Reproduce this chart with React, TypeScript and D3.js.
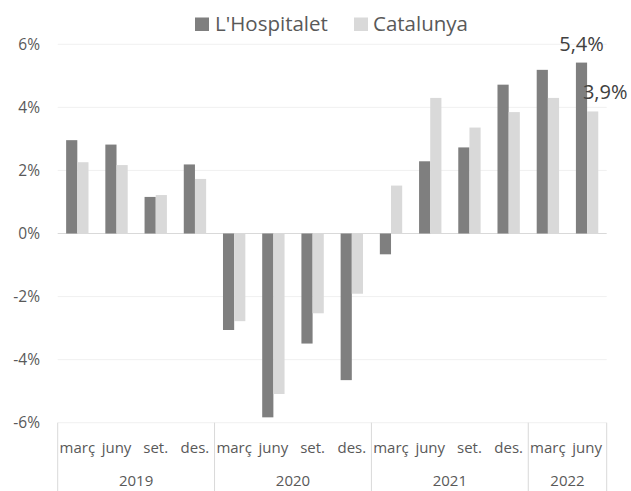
import React from 'react';
import * as d3 from 'd3';

// quarterly values
const months = ['març', 'juny', 'set.', 'des.', 'març', 'juny', 'set.', 'des.', 'març', 'juny', 'set.', 'des.', 'març', 'juny'];
const years = ['2019', '2020', '2021', '2022'];
const yearCounts = [4, 4, 4, 2];
const hospitalet = [2.96, 2.82, 1.16, 2.19, -3.06, -5.83, -3.49, -4.65, -0.66, 2.29, 2.73, 4.72, 5.19, 5.42];
const catalunya = [2.26, 2.17, 1.22, 1.73, -2.78, -5.09, -2.53, -1.91, 1.52, 4.3, 3.36, 3.85, 4.3, 3.87];
const yTicks = [-6, -4, -2, 0, 2, 4, 6];
const seriesNames = ["L'Hospitalet", 'Catalunya'];
const seriesColors = ['#7f7f7f', '#d9d9d9'];

const W = 631;
const H = 491;
const left = 57.7;
const right = 606.7;
const font = "'Open Sans', sans-serif";

export default function App() {
  const x = d3.scaleBand<number>()
    .domain(d3.range(months.length))
    .range([left, right])
    .paddingInner(0.43)
    .paddingOuter(0.215);
  const step = x.step();
  const bw = x.bandwidth() / 2;
  const y = d3.scaleLinear().domain([-6, 6]).range([422.7, 44.3]);

  // year group boundaries
  const bounds: number[] = [left];
  yearCounts.reduce((acc, c) => {
    bounds.push(left + (acc + c) * step);
    return acc + c;
  }, 0);

  const fmt = (v: number) => v.toFixed(1).replace('.', ',') + '%';
  const last = months.length - 1;

  return (
    <div style={{ position: 'absolute', left: 0, top: 0 }}>
      <svg width={W} height={H} style={{ display: 'block', background: '#fff' }}>
        {/* gridlines */}
        {yTicks.map(t => (
          <line key={t} x1={left} x2={right} y1={y(t)} y2={y(t)}
            stroke={t === 0 ? '#d9d9d9' : '#f0f0f0'} strokeWidth={1} />
        ))}
        {yTicks.map(t => (
          <text key={'l' + t} x={40} y={y(t)} dy="0.35em" textAnchor="end"
            fontFamily={font} fontSize={15.5} fill="#595959">{t}%</text>
        ))}

        {/* bars */}
        {hospitalet.map((v, i) => (
          <rect key={'h' + i} x={x(i)!} width={bw}
            y={Math.min(y(v), y(0))} height={Math.abs(y(v) - y(0))} fill={seriesColors[0]} />
        ))}
        {catalunya.map((v, i) => (
          <rect key={'c' + i} x={x(i)! + bw} width={bw}
            y={Math.min(y(v), y(0))} height={Math.abs(y(v) - y(0))} fill={seriesColors[1]} />
        ))}

        {/* data labels on last quarter */}
        <text x={x(last)! + bw / 2} y={y(hospitalet[last]) - 12} textAnchor="middle"
          fontFamily={font} fontSize={20} fill="#404040">{fmt(hospitalet[last])}</text>
        <text x={x(last)! + bw * 1.5 + 12.5} y={y(catalunya[last]) - 12.5} textAnchor="middle"
          fontFamily={font} fontSize={20} fill="#404040">{fmt(catalunya[last])}</text>

        {/* category axis */}
        {bounds.map((b, i) => (
          <line key={'b' + i} x1={b} x2={b} y1={y(-6)} y2={H} stroke="#d9d9d9" />
        ))}
        {months.map((m, i) => (
          <text key={'m' + i} x={x(i)! + bw} y={448} dy="0.35em" textAnchor="middle"
            fontFamily={font} fontSize={15} fill="#595959">{m}</text>
        ))}
        {years.map((yr, i) => (
          <text key={yr} x={(bounds[i] + bounds[i + 1]) / 2} y={481} dy="0.35em" textAnchor="middle"
            fontFamily={font} fontSize={15} fill="#595959">{yr}</text>
        ))}

        {/* legend */}
        <g fontFamily={font} fontSize={20.5} fill="#595959">
          <rect x={195} y={17.5} width={14} height={13.5} fill={seriesColors[0]} />
          <text x={215} y={31}>{seriesNames[0]}</text>
          <rect x={354} y={17.5} width={14} height={13.5} fill={seriesColors[1]} />
          <text x={373} y={31}>{seriesNames[1]}</text>
        </g>
      </svg>
    </div>
  );
}
